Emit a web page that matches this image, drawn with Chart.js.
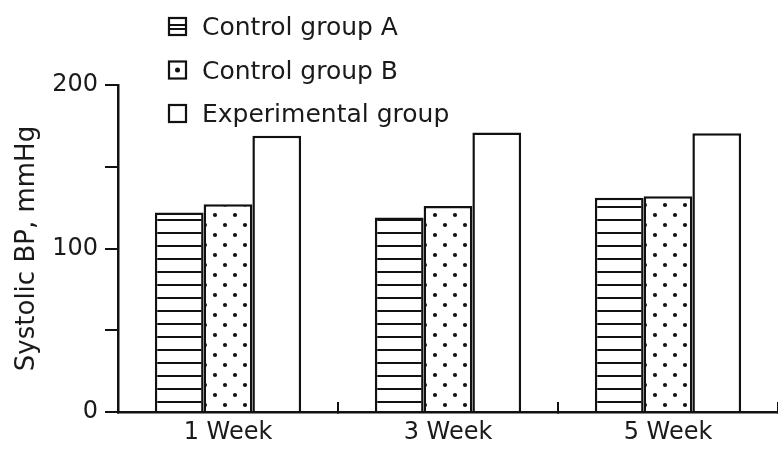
<!DOCTYPE html>
<html lang="en">
<head>
    <meta charset="UTF-8" />
    <title>Systolic BP</title>
    <script src="https://cdn.jsdelivr.net/npm/chart.js"></script>
    <style>
        html, body { margin: 0; padding: 0; background: #fff; }
        .chart-box { position: relative; width: 778px; height: 449px; }
    </style>
</head>
<body>
    <div class="chart-box"><canvas id="bpChart"></canvas></div>

    <script>
        const weeks = ["1 Week", "3 Week", "5 Week"];
        const groupNames = ["Control group A", "Control group B", "Experimental group"];
        const controlA = [122, 119, 131];
        const controlB = [127, 126, 132];
        const experimental = [169, 171, 170.5];
        const labelledTicks = [0, 100, 200];

        const ink = "#111";
        const textInk = "#1a1a1a";
        const font = "'DejaVu Sans', sans-serif";

        // horizontal stripes for control group A
        function stripePattern() {
            const c = document.createElement("canvas");
            c.width = 8; c.height = 13;
            const g = c.getContext("2d");
            g.fillStyle = "#fff"; g.fillRect(0, 0, 8, 13);
            g.fillStyle = ink; g.fillRect(0, 11, 8, 2);
            return g.createPattern(c, "repeat");
        }

        // staggered dots for control group B
        function dotPattern() {
            const c = document.createElement("canvas");
            c.width = 20; c.height = 20;
            const g = c.getContext("2d");
            g.fillStyle = "#fff"; g.fillRect(0, 0, 20, 20);
            g.fillStyle = ink;
            [[5, 5], [15, 15]].forEach(([x, y]) => {
                g.beginPath(); g.arc(x, y, 2.1, 0, Math.PI * 2); g.fill();
            });
            return g.createPattern(c, "repeat");
        }

        const stackedLegend = {
            id: "stackedLegend",
            afterDraw(chart) {
                const ctx = chart.ctx;
                ctx.save();
                ctx.font = "25px " + font;
                ctx.fillStyle = textInk;
                ctx.textBaseline = "alphabetic";
                chart.data.datasets.forEach((ds, i) => {
                    const base = 35 + i * 43.5;
                    const x = 169, top = base - 17, s = 17;
                    ctx.strokeStyle = ink;
                    ctx.lineWidth = 2.2;
                    ctx.strokeRect(x, top, s, s);
                    if (i === 0) {
                        ctx.fillStyle = ink;
                        ctx.fillRect(x, top + 6, s, 2);
                        ctx.fillRect(x, top + 10, s, 2);
                    } else if (i === 1) {
                        ctx.fillStyle = ink;
                        ctx.beginPath(); ctx.arc(x + s / 2, top + s / 2, 2.5, 0, Math.PI * 2); ctx.fill();
                    }
                    ctx.fillStyle = textInk;
                    ctx.fillText(ds.label, 202, base);
                });
                ctx.restore();
            }
        };

        const bar = (label, data, fill) => ({
            label: label,
            data: data,
            backgroundColor: fill,
            borderColor: ink,
            borderWidth: 2.5,
            borderSkipped: "bottom",
            categoryPercentage: 0.665,
            barPercentage: 1.0
        });

        new Chart(document.getElementById("bpChart"), {
            type: "bar",
            data: {
                labels: weeks,
                datasets: [
                    bar(groupNames[0], controlA, stripePattern()),
                    bar(groupNames[1], controlB, dotPattern()),
                    bar(groupNames[2], experimental, "#fff")
                ]
            },
            options: {
                responsive: true,
                maintainAspectRatio: false,
                animation: false,
                layout: { padding: { top: 85, right: 0, bottom: 0, left: 0 } },
                plugins: {
                    legend: { display: false },
                    tooltip: { enabled: false }
                },
                scales: {
                    x: {
                        afterFit(scale) { scale.height = 37; },
                        border: { color: ink, width: 2.5 },
                        grid: {
                            drawOnChartArea: false,
                            lineWidth: 2,
                            tickLength: -10,
                            color: (c) => (c.index === weeks.length ? "rgba(0,0,0,0)" : ink)
                        },
                        ticks: { color: textInk, font: { family: font, size: 24 }, padding: 16 }
                    },
                    y: {
                        min: 0,
                        max: 200,
                        afterFit(scale) { scale.width = 118; },
                        border: { color: ink, width: 2.5 },
                        grid: { drawOnChartArea: false, color: ink, lineWidth: 2, tickLength: 13 },
                        ticks: {
                            stepSize: 50,
                            color: textInk,
                            font: { family: font, size: 24 },
                            padding: 7,
                            callback: (v) => labelledTicks.includes(v) ? v : ""
                        },
                        title: {
                            display: true,
                            text: "Systolic BP, mmHg",
                            color: textInk,
                            font: { family: font, size: 26 },
                            padding: { top: 12, bottom: 0 }
                        }
                    }
                }
            },
            plugins: [stackedLegend]
        });
    </script>
</body>
</html>
